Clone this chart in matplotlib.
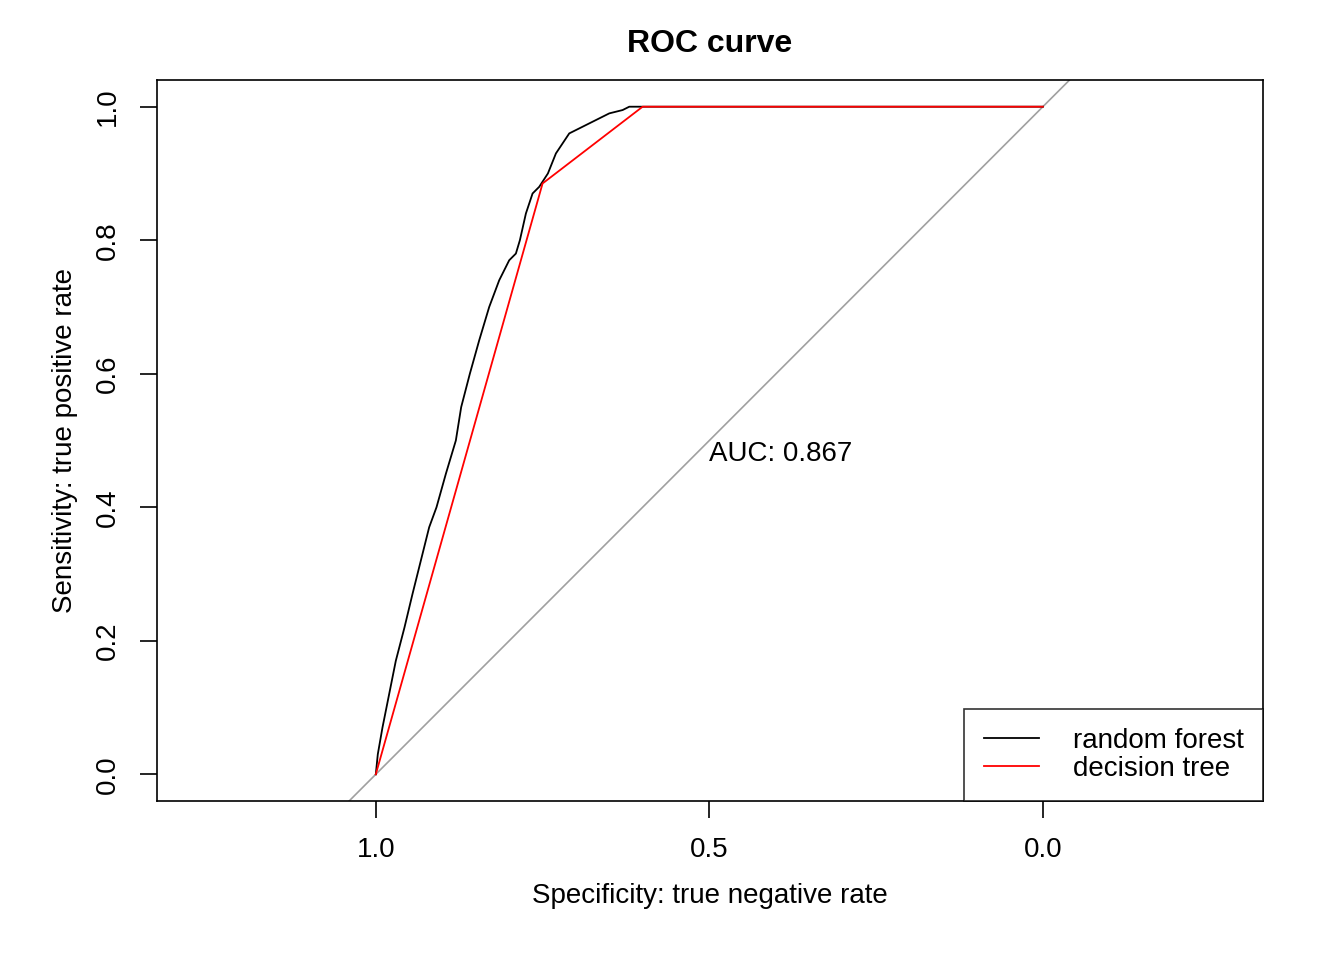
import matplotlib
matplotlib.use("Agg")
import matplotlib.pyplot as plt

plt.rcParams['font.family'] = ['Liberation Sans', 'DejaVu Sans']

rf_spec = [1.0, 0.997, 0.99, 0.98, 0.97, 0.957, 0.945, 0.93, 0.92, 0.909, 0.895, 0.88, 0.872, 0.859, 0.845, 0.83, 0.815, 0.80, 0.790, 0.784, 0.775, 0.765, 0.755, 0.742, 0.73, 0.72, 0.71, 0.69, 0.67, 0.65, 0.63, 0.62, 0.0]
rf_sens = [0.0, 0.03, 0.07, 0.12, 0.17, 0.22, 0.27, 0.33, 0.37, 0.40, 0.45, 0.50, 0.55, 0.60, 0.65, 0.70, 0.74, 0.77, 0.78, 0.80, 0.84, 0.87, 0.88, 0.90, 0.93, 0.945, 0.96, 0.97, 0.98, 0.99, 0.995, 1.0, 1.0]
dt_spec = [1.0, 0.75, 0.60, 0.0]
dt_sens = [0.0, 0.885, 1.0, 1.0]
x_ticks = [1.0, 0.5, 0.0]
y_ticks = [0.0, 0.2, 0.4, 0.6, 0.8, 1.0]

fig = plt.figure(figsize=(13.44, 9.6), dpi=100)
ax = fig.add_axes([157/1344, 159/960, 1106/1344, 721/960])
ax.plot([1.04, -0.04], [-0.04, 1.04], color='#a0a0a0', lw=1.2)
l1, = ax.plot(rf_spec, rf_sens, color='black', lw=1.3)
l2, = ax.plot(dt_spec, dt_sens, color='red', lw=1.3)
ax.set_xlim(1.328, -0.33)
ax.set_ylim(-0.04, 1.04)
ax.set_xticks(x_ticks)
ax.set_xticklabels([f"{v:.1f}" for v in x_ticks])
ax.set_yticks(y_ticks)
ax.set_yticklabels([f"{v:.1f}" for v in y_ticks], rotation=90, va='center')
ax.tick_params(direction='out', length=12, width=1.2, labelsize=20, pad=14)
for s in ax.spines.values():
    s.set_linewidth(1.2)
ax.set_xlabel("Specificity: true negative rate", fontsize=20, labelpad=14)
ax.set_ylabel("Sensitivity: true positive rate", fontsize=20, labelpad=12)
ax.set_title("ROC curve", fontsize=23, fontweight='bold', pad=20)
ax.text(0.5, 0.48, "AUC: 0.867", fontsize=20, ha='left', va='center')
leg = ax.legend([l1, l2], ["random forest", "decision tree"], loc='lower right', fontsize=20,
                fancybox=False, edgecolor='black', borderaxespad=0, handlelength=2.0,
                handletextpad=1.2, borderpad=0.7, labelspacing=0.05)
leg.get_frame().set_linewidth(1.2)
fig.savefig("out.png", dpi=100)
